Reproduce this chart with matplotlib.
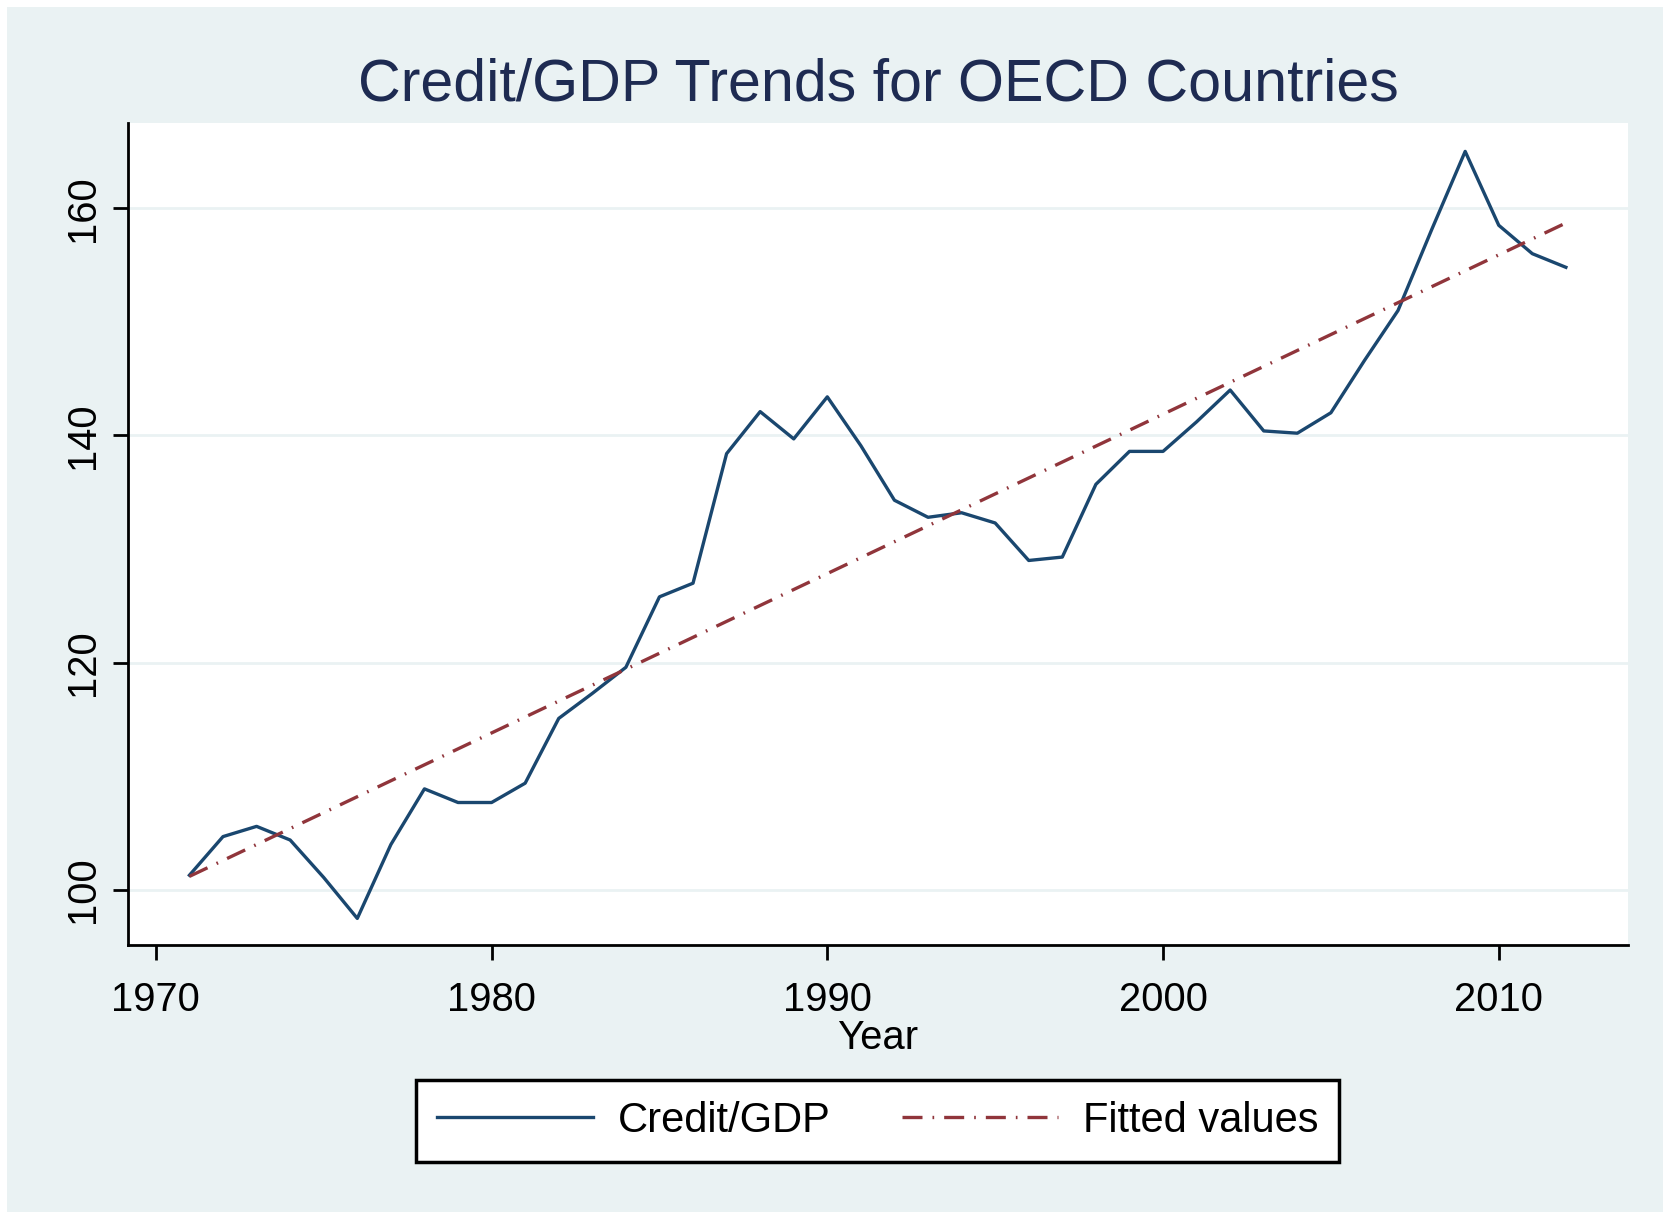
'''
Credit/GDP trends for OECD countries, with a linear fit.
'''

import matplotlib.pyplot as plt
from matplotlib.patches import Rectangle

# Data
years = list(range(1971, 2013))
credit_gdp = [101.3, 104.7, 105.6, 104.4, 101.1, 97.5, 104.0, 108.9, 107.7, 107.7,
              109.4, 115.1, 117.3, 119.6, 125.8, 127.0, 138.4, 142.1, 139.7, 143.4,
              139.1, 134.3, 132.8, 133.2, 132.3, 129.0, 129.3, 135.7, 138.6, 138.6,
              141.2, 144.0, 140.4, 140.2, 142.0, 146.6, 151.0, 158.1, 165.0, 158.5,
              156.0, 154.8]
fit_years = [1971, 2012]
fit_values = [101.2, 158.7]
x_ticks = [1970, 1980, 1990, 2000, 2010]
y_ticks = [100, 120, 140, 160]

plt.rcParams['font.family'] = ['Liberation Sans', 'DejaVu Sans']

bg = '#EAF2F3'
navy = '#1A476F'
maroon = '#90353B'

fig = plt.figure(figsize=(16.63, 12.12), dpi=100, facecolor='white')
# Stata style graph region (thin white margin top/left)
fig.patches.append(Rectangle((7 / 1663, 0), 1 - 7 / 1663, 1 - 7 / 1212,
                             transform=fig.transFigure, facecolor=bg,
                             edgecolor='none', zorder=-1))

ax = fig.add_axes([128 / 1663, 1 - 945 / 1212, 1500 / 1663, 822 / 1212])
ax.set_facecolor('white')

ax.plot(years, credit_gdp, color=navy, lw=2.4, label='Credit/GDP', zorder=3)
ax.plot(fit_years, fit_values, color=maroon, lw=2.4,
        linestyle=(0, (6, 3, 0.5, 3)), label='Fitted values', zorder=3)

ax.set_xlim(1969.17, 2013.85)
ax.set_ylim(95.16, 167.5)
ax.set_xticks(x_ticks)
ax.set_yticks(y_ticks)
ax.grid(axis='y', color=bg, lw=2, zorder=0)
ax.grid(axis='x', visible=False)

for side in ['top', 'right']:
    ax.spines[side].set_visible(False)
for side in ['left', 'bottom']:
    ax.spines[side].set_linewidth(2)
    ax.spines[side].set_color('black')

ax.tick_params(axis='both', length=11, width=2, labelsize=28.8, colors='black')
ax.tick_params(axis='x', pad=15)
ax.tick_params(axis='y', pad=8)
for lbl in ax.get_yticklabels():
    lbl.set_rotation(90)
    lbl.set_va('center')

ax.set_xlabel('Year', fontsize=28.8, labelpad=0)
ax.set_title('Credit/GDP Trends for OECD Countries', fontsize=42.6,
             color='#1E2B52', pad=16)

leg = ax.legend(loc='center', bbox_to_anchor=(877.5 / 1663, 1 - 1121 / 1212),
                bbox_transform=fig.transFigure, ncol=2, fontsize=30,
                frameon=True, fancybox=False, framealpha=1, handlelength=3.75,
                handletextpad=0.6, columnspacing=1.7, borderpad=0.5)
leg.get_frame().set_edgecolor('black')
leg.get_frame().set_linewidth(2.5)
leg.get_frame().set_facecolor('white')

fig.savefig('out.png', dpi=100, facecolor=fig.get_facecolor())
